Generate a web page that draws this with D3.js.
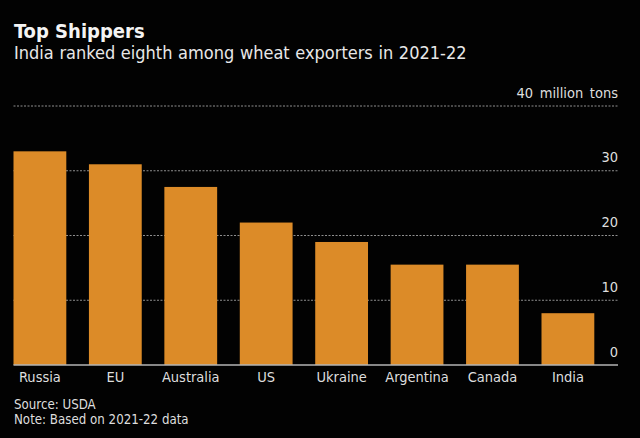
<!DOCTYPE html>
<html>
<head>
<meta charset="utf-8">
<script src="https://cdn.jsdelivr.net/npm/d3@7"></script>
<style>
  html, body { margin: 0; padding: 0; background: #000; }
  svg { display: block; }
  text { font-family: "DejaVu Sans Condensed", "DejaVu Sans", sans-serif; fill: #dedede; }
  .title { font-size: 20px; font-weight: bold; fill: #f4f4f4; }
  .subtitle { font-size: 18px; word-spacing: 0.5px; fill: #e8e8e8; }
  .tick text { font-size: 14.5px; word-spacing: 2.5px; }
  .foot { font-size: 13.2px; }
</style>
</head>
<body>
<div id="chart"></div>
<script>
const categories = ["Russia", "EU", "Australia", "US", "Ukraine", "Argentina", "Canada", "India"];
const exports_mt = [33, 31, 27.5, 22, 19, 15.5, 15.5, 8];
const yTicks = [0, 10, 20, 30, 40];
const footnotes = ["Source: USDA", "Note: Based on 2021-22 data"];

const width = 640;
const height = 438;
const left = 13.5;
const right = 618;
const baseline = 365;
const top40 = 106;

const svg = d3.select("#chart").append("svg").attr("width", width).attr("height", height);

svg.append("rect").attr("width", width).attr("height", height).attr("fill", "#020202");

const x = d3.scaleBand().domain(categories).range([left, 594.3]).paddingInner(0.3).paddingOuter(0);
const y = d3.scaleLinear().domain([0, 40]).range([baseline, top40]);

// gridlines, behind the bars
svg.append("g").selectAll("line").data(yTicks.filter((d) => d > 0)).join("line")
  .attr("x1", left).attr("x2", right)
  .attr("y1", (d) => y(d)).attr("y2", (d) => y(d))
  .attr("stroke", "#8f8f8f").attr("stroke-width", 1).attr("stroke-dasharray", "2,1.5");

svg.append("g").selectAll("rect").data(categories).join("rect")
  .attr("x", (d) => x(d))
  .attr("width", x.bandwidth())
  .attr("y", (d, i) => y(exports_mt[i]))
  .attr("height", (d, i) => baseline - y(exports_mt[i]))
  .attr("fill", "#dc8b28");

const xAxis = svg.append("g").attr("transform", `translate(0,${baseline})`)
  .call(d3.axisBottom(x).tickSize(0).tickPadding(7));
xAxis.select(".domain").remove();
xAxis.selectAll("text").attr("font-family", null);

svg.append("line").attr("x1", left).attr("x2", right).attr("y1", baseline).attr("y2", baseline)
  .attr("stroke", "#b4b4b4").attr("stroke-width", 1.5);

const yAxis = svg.append("g").attr("transform", `translate(${right},0)`)
  .call(d3.axisLeft(y).tickValues(yTicks).tickSize(0).tickPadding(0)
    .tickFormat((d) => d === 40 ? "40 million tons" : d));
yAxis.select(".domain").remove();
yAxis.selectAll("text").attr("font-family", null).attr("dy", "-0.62em");

svg.append("text").attr("class", "title").attr("x", 14).attr("y", 38).text("Top Shippers");
svg.append("text").attr("class", "subtitle").attr("x", 14).attr("y", 59)
  .text("India ranked eighth among wheat exporters in 2021-22");

svg.append("g").selectAll("text").data(footnotes).join("text")
  .attr("class", "foot").attr("x", 14).attr("y", (d, i) => 409 + i * 15).text((d) => d);
</script>
</body>
</html>
